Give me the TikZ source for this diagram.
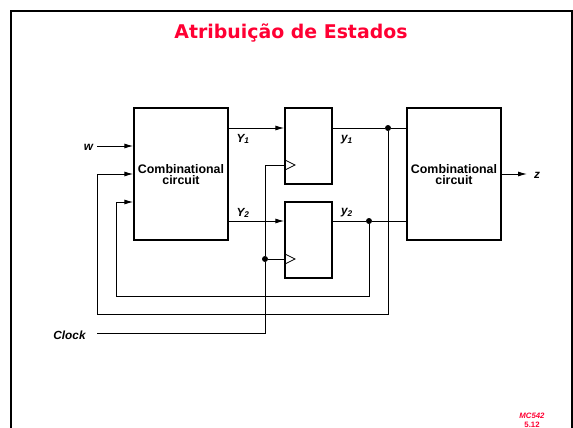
\documentclass[tikz,border=0pt]{standalone}
\usepackage{fontspec}
\setmainfont{Liberation Sans}
\newfontfamily\titlefont{DejaVu Sans}
\usetikzlibrary{arrows.meta}
\definecolor{slidered}{HTML}{FF0033}
\tikzset{
	block/.style={draw,line width=1.2pt,inner sep=0pt,minimum width=94pt,minimum height=132pt,font=\bfseries\fontsize{12.4}{11.7}\selectfont,align=center,text depth=0pt},
	flipflop/.style={draw,line width=1.2pt,inner sep=0pt,minimum width=47pt,minimum height=76pt},
	wire/.style={line width=1pt},
	inwire/.style={wire,-{Latex[length=9pt,width=5pt]}},
	label/.style={inner sep=0pt,font=\bfseries\itshape\fontsize{11.8}{12}\selectfont},
	junction/.style={circle,fill,inner sep=0pt,minimum size=6pt}
}
\begin{document}
\begin{tikzpicture}[x=1pt,y=-1pt]
		\useasboundingbox (0,0) rectangle (573,428);
		\draw[line width=2pt] (11,428) -- (11,11) -- (572,11) -- (572,428);
		\node[text=slidered,font=\titlefont\bfseries\fontsize{18.9}{19}\selectfont] (title) at (291,33) {Atribuição de Estados};
		\node[block] (logic) at (181,174) {\raisebox{-1pt}{Combinational}\\\raisebox{-1pt}{circuit}\hspace{8pt}};
		\node[block] (output) at (454,174) {\raisebox{-1pt}{Combinational}\\\raisebox{-1pt}{circuit}\hspace{8pt}};
		\node[flipflop] (ff1) at (308.5,146) {};
		\node[flipflop] (ff2) at (308.5,240) {};
		% inputs of the first block
		\node[label] (w) at (88.5,147) {w};
		\node[label] (clock) at (69.5,335) {Clock};
		\node[label] (Y1) at (243,139) {Y\textsubscript{1}};
		\node[label] (Y2) at (243,213) {Y\textsubscript{2}};
		\node[label] (y1) at (347,140) {y\textsubscript{1}};
		\node[label] (y2) at (347,213) {y\textsubscript{2}};
		\node[label] (z) at (537,175) {z};
		\node[junction] (j1) at (388,128) {};
		\node[junction] (j2) at (369,221) {};
		\node[junction] (j3) at (265,259) {};
		\coordinate (wstart) at (97,146);
		\coordinate (clkstart) at (97,333);
		\coordinate (zend) at (527,174);
		\draw[inwire] (wstart) -- (wstart -| logic.west);
		\draw[inwire] (logic.east |- 0,128) -- (ff1.west |- 0,128);
		\draw[inwire] (logic.east |- 0,221) -- (ff2.west |- 0,221);
		\draw[inwire] (output.east) -- (zend);
		\draw[wire] (ff1.east |- j1) -- (j1) -- (output.west |- j1);
		\draw[wire] (ff2.east |- j2) -- (j2) -- (output.west |- j2);
		% feedback
		\draw[inwire] (j2) |- (116,296) |- (logic.west |- 0,202);
		\draw[inwire] (j1) |- (97,314) |- (logic.west |- 0,174);
		% clock
		\draw[wire] (clkstart) -| (j3) |- (ff1.west |- 0,165);
		\draw[wire] (j3) -- (ff2.west |- j3);
		\draw[line width=0.7pt] (285,160) -- (295,165) -- (285,170);
		\draw[line width=0.7pt] (285,254) -- (295,259) -- (285,264);
		\node[text=slidered,font=\bfseries\fontsize{7.8}{9}\selectfont,align=center] (page) at (532,420.5) {\textit{MC542}\\5.12};
\end{tikzpicture}
\end{document}
